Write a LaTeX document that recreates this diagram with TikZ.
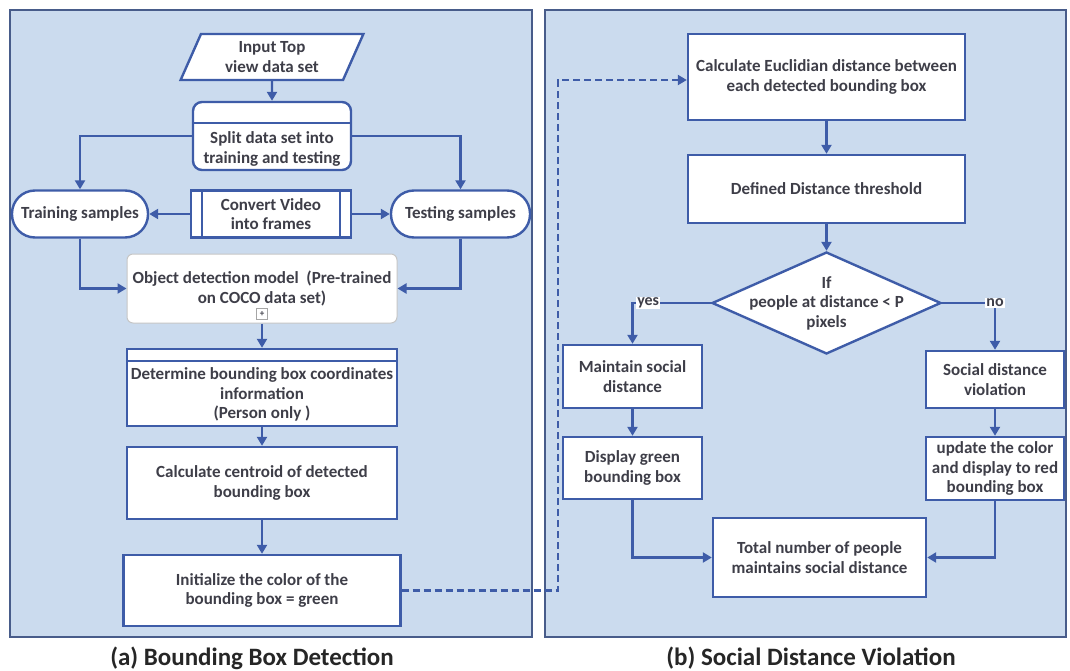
\documentclass[tikz,border=0pt]{standalone}
\usepackage{fontspec}
\setmainfont{Carlito}
\usetikzlibrary{shapes.geometric,arrows.meta}
\definecolor{panelblue}{RGB}{203,219,238}
\definecolor{paneledge}{RGB}{72,92,138}
\definecolor{lineblue}{RGB}{62,92,168}
\definecolor{textgray}{RGB}{62,62,72}

\begin{document}
\begin{tikzpicture}[x=1pt,y=-1pt,
    panel/.style ={draw=paneledge, fill=panelblue, line width=2pt},
    boxtext/.style ={align=center, text=textgray, font=\fontsize{17}{19.5}\selectfont\bfseries},
    process/.style ={rectangle, draw=lineblue, fill=white, line width=2.4pt, boxtext, inner sep=2pt},
    terminal/.style ={process, rounded corners=23pt},
    io/.style ={process, trapezium, trapezium left angle=68, trapezium right angle=112, trapezium stretches=true},
    decision/.style ={process, diamond, inner sep=0pt},
    flowline/.style ={draw=lineblue, line width=2.4pt, -{Triangle[length=9pt,width=10pt]}},
    dashline/.style ={flowline, dash pattern=on 7pt off 4pt},
    branch/.style ={fill=white, inner sep=1pt, text=textgray, font=\fontsize{16}{18}\selectfont\bfseries},
    caption/.style ={anchor=base, font=\fontsize{25}{28}\selectfont\bfseries, text=black!85}]

   \useasboundingbox (0,0) rectangle (1070,671);
   \draw[panel] (10,10) rectangle (532,637);
   \draw[panel] (545,10) rectangle (1066,637);

   % (a) bounding box detection
   \node[io, minimum width=183, minimum height=46] (In) at (272,57) {Input Top\\view data set};
   \node[process, rounded corners=9pt, minimum width=158, minimum height=68,
         label={[boxtext, yshift=-13pt]center:Split data set into\\training and testing}] (Split) at (272,136) {};
   \draw[draw=lineblue, line width=2.4pt] ([yshift=-22pt]Split.north west) -- ([yshift=-22pt]Split.north east);
   \node[terminal, minimum width=136, minimum height=47] (Train) at (80,214) {Training samples};
   \node[terminal, minimum width=139, minimum height=47] (Test) at (460.5,214) {Testing samples};
   \node[process, minimum width=160, minimum height=47] (Conv) at (271,214) {Convert Video\\into frames};
   \draw[draw=lineblue, line width=2.4pt] ([xshift=12pt]Conv.north west) -- ([xshift=12pt]Conv.south west);
   \draw[draw=lineblue, line width=2.4pt] ([xshift=-12pt]Conv.north east) -- ([xshift=-12pt]Conv.south east);
   \node[process, draw=gray!45, line width=1pt, rounded corners=6pt, minimum width=270, minimum height=69] (Obj) at (262,288.5)
        {Object detection model~ (Pre-trained\\on COCO data set)};
   \node[draw=gray!70, fill=white, line width=0.8pt, inner sep=0pt, minimum size=11, font=\small\bfseries, text=textgray] (Plus) at (262,314) {+};
   \node[process, minimum width=270, minimum height=77,
         label={[boxtext, yshift=-7pt]center:Determine bounding box coordinates\\information\\(Person only )}] (Det) at (262,387.5) {};
   \draw[draw=lineblue, line width=2.4pt] ([yshift=-13pt]Det.north west) -- ([yshift=-13pt]Det.north east);
   \node[process, minimum width=270, minimum height=72] (Cen) at (262,483) {Calculate centroid of detected\\bounding box};
   \node[process, minimum width=277, minimum height=71] (Init) at (262,590.5) {Initialize the color of the\\bounding box = green};

   \draw[flowline] (In) -- (Split);
   \draw[flowline] (Split.west) -| (Train.north);
   \draw[flowline] (Split.east) -| (Test.north);
   \draw[flowline] (Conv) -- (Train);
   \draw[flowline] (Conv) -- (Test);
   \draw[flowline] (Train.south) |- (Obj.west);
   \draw[flowline] (Test.south) |- (Obj.east);
   \draw[flowline] (Obj) -- (Det);
   \draw[flowline] (Det) -- (Cen);
   \draw[flowline] (Cen) -- (Init);

   % (b) social distance violation
   \node[process, minimum width=277, minimum height=86] (Eucl) at (826.5,77) {Calculate Euclidian distance between\\each detected bounding box};
   \node[process, minimum width=277, minimum height=68] (Thr) at (826.5,189) {Defined Distance threshold};
   \node[decision, minimum width=229, minimum height=102,
         label={[boxtext]center:If\\people at distance < P\\pixels}] (Dec) at (826.5,303) {};
   \node[process, minimum width=139, minimum height=63] (Keep) at (632.5,376.5) {Maintain social\\distance};
   \node[process, minimum width=138, minimum height=57] (Viol) at (995,379.5) {Social distance\\violation};
   \node[process, minimum width=139, minimum height=62] (Green) at (632.5,468) {Display green\\bounding box};
   \node[process, minimum width=138, minimum height=63] (Red) at (995,468.5) {update the color\\and display to red\\bounding box};
   \node[process, minimum width=213, minimum height=79] (Total) at (819.5,557.5) {Total number of people\\maintains social distance};
   \coordinate (Bend) at (558,80);

   \draw[dashline] (Init.east) -| (Bend) -- (Bend -| Eucl.west);
   \draw[flowline] (Eucl) -- (Thr);
   \draw[flowline] (Thr) -- (Dec);
   \draw[flowline] (Dec.west) -| node[branch, pos=0.4] {yes} (Keep.north);
   \draw[flowline] (Dec.east) -| node[branch, pos=0.5] {no} (Viol.north);
   \draw[flowline] (Keep) -- (Green);
   \draw[flowline] (Viol) -- (Red);
   \draw[flowline] (Green.south) |- (Total.west);
   \draw[flowline] (Red.south) |- (Total.east);

   \node[caption] (CapA) at (252,665) {(a) Bounding Box Detection};
   \node[caption] (CapB) at (811,665) {(b) Social Distance Violation};
 \end{tikzpicture}
\end{document}
